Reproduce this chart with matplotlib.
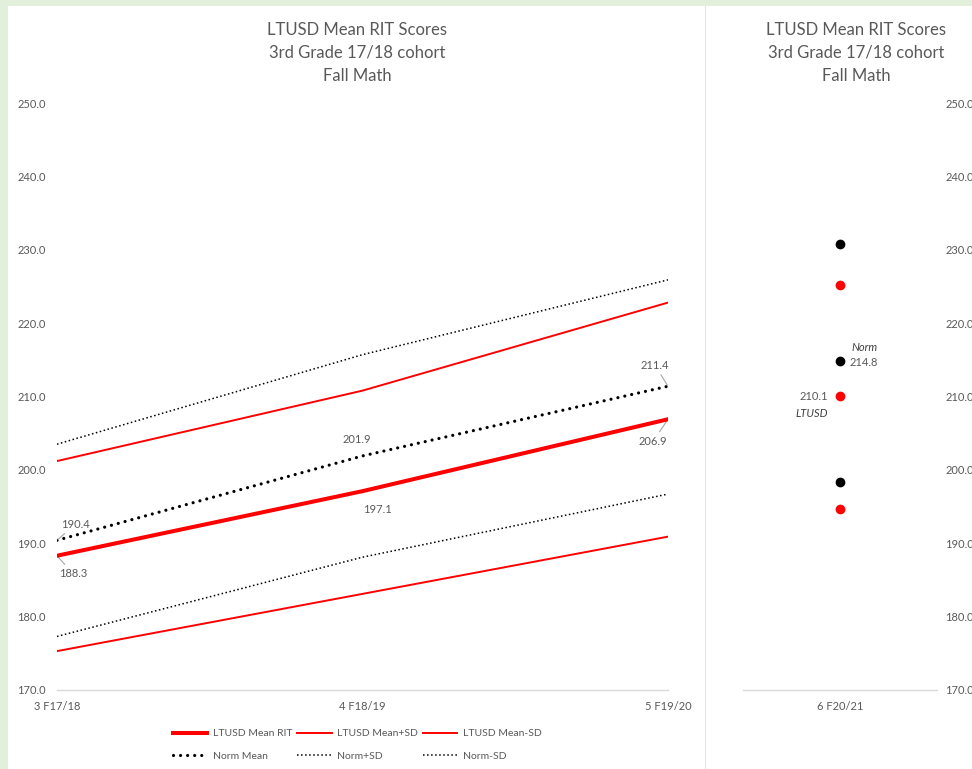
import matplotlib
matplotlib.use('Agg')
import matplotlib.pyplot as plt
from matplotlib.patches import Rectangle
from matplotlib.lines import Line2D

plt.rcParams['font.family'] = ['Lato', 'DejaVu Sans']

# data
grades = ['3 F17/18', '4 F18/19', '5 F19/20']
ltusd_mean = [188.3, 197.1, 206.9]
ltusd_plus = [201.2, 210.8, 222.8]
ltusd_minus = [175.3, 183.1, 190.9]
norm_mean = [190.4, 201.9, 211.4]
norm_plus = [203.5, 215.7, 225.9]
norm_minus = [177.3, 188.1, 196.7]

grade6 = ['6 F20/21']
g6_ltusd = [210.1, 225.2, 194.7]   # mean, +SD, -SD
g6_norm = [214.8, 230.8, 198.4]

title = 'LTUSD Mean RIT Scores\n3rd Grade 17/18 cohort\nFall Math'
grey = '#595959'
W, H = 972, 769

fig = plt.figure(figsize=(9.72, 7.69), dpi=100)
fig.patch.set_facecolor('#E2EFDA')
fig.patches.append(Rectangle((8 / W, 0), 1 - 8 / W, 1 - 6 / H, transform=fig.transFigure,
                             facecolor='white', edgecolor='none', zorder=-10))
fig.lines.append(Line2D([705 / W, 705 / W], [0, 1 - 6 / H], transform=fig.transFigure,
                        color='#E4E4E4', lw=0.8, zorder=-5))

ax = fig.add_axes([57 / W, 1 - 690 / H, 611 / W, 587 / H])
ax2 = fig.add_axes([743 / W, 1 - 690 / H, 194 / W, 587 / H])

x = list(range(len(grades)))
l1, = ax.plot(x, ltusd_mean, color='red', lw=2.9, label='LTUSD Mean RIT', zorder=4)
l2, = ax.plot(x, ltusd_plus, color='red', lw=1.4, label='LTUSD Mean+SD')
l3, = ax.plot(x, ltusd_minus, color='red', lw=1.4, label='LTUSD Mean-SD')
n1, = ax.plot(x, norm_mean, color='black', lw=2.3, dashes=(0.01, 2.2), dash_capstyle='round',
              label='Norm Mean', zorder=3)
n2, = ax.plot(x, norm_plus, color='black', lw=1.1, ls=':', label='Norm+SD')
n3, = ax.plot(x, norm_minus, color='black', lw=1.1, ls=':', label='Norm-SD')

for a in (ax, ax2):
    a.set_ylim(170, 250)
    a.set_yticks(range(170, 251, 10))
    a.set_yticklabels([f'{v:.1f}' for v in range(170, 251, 10)])
    for s in ('top', 'left', 'right'):
        a.spines[s].set_visible(False)
    a.spines['bottom'].set_color('#D9D9D9')
    a.spines['bottom'].set_linewidth(1)
    a.tick_params(length=0, labelsize=8, labelcolor=grey)
    a.tick_params(axis='x', pad=8)
    a.set_facecolor('none')

ax.set_xlim(0, len(grades) - 1)
ax.set_xticks(x)
ax.set_xticklabels(grades)
ax.tick_params(axis='y', pad=8)

ax2.set_xlim(-0.5, 0.5)
ax2.set_xticks([0])
ax2.set_xticklabels(grade6)
ax2.yaxis.tick_right()
ax2.tick_params(axis='y', pad=6)

ax2.plot([0] * 3, g6_norm, 'o', color='black', ms=6, zorder=3)
ax2.plot([0] * 3, g6_ltusd, 'o', color='red', ms=6, zorder=3)

# data labels
lead = dict(arrowstyle='-', color='#A6A6A6', lw=0.8, shrinkA=1, shrinkB=1)
lab = dict(textcoords='offset pixels', fontsize=8, color=grey, ha='center', va='center')
ax.annotate(f'{norm_mean[0]:.1f}', (0, norm_mean[0]), xytext=(18, 16), arrowprops=lead, **lab)
ax.annotate(f'{ltusd_mean[0]:.1f}', (0, ltusd_mean[0]), xytext=(16, -18), arrowprops=lead, **lab)
ax.annotate(f'{norm_mean[1]:.1f}', (1, norm_mean[1]), xytext=(-6, 16), **lab)
ax.annotate(f'{ltusd_mean[1]:.1f}', (1, ltusd_mean[1]), xytext=(15, -18), **lab)
ax.annotate(f'{norm_mean[2]:.1f}', (2, norm_mean[2]), xytext=(-13, 21), arrowprops=lead, **lab)
ax.annotate(f'{ltusd_mean[2]:.1f}', (2, ltusd_mean[2]), xytext=(-15, -22), arrowprops=lead, **lab)

ax2.annotate(f'{g6_norm[0]:.1f}', (0, g6_norm[0]), xytext=(10, -1), textcoords='offset pixels',
             fontsize=8, color=grey, ha='left', va='center')
ax2.annotate('Norm', (0, g6_norm[0]), xytext=(11, 14), textcoords='offset pixels',
             fontsize=8, color='#404040', style='italic', ha='left', va='center')
ax2.annotate(f'{g6_ltusd[0]:.1f}', (0, g6_ltusd[0]), xytext=(-12, -1), textcoords='offset pixels',
             fontsize=8, color=grey, ha='right', va='center')
ax2.annotate('LTUSD', (0, g6_ltusd[0]), xytext=(-12, -18), textcoords='offset pixels',
             fontsize=8, color='#404040', style='italic', ha='right', va='center')

# titles
fig.text(357 / W, 1 - 53 / H, title, ha='center', va='center', fontsize=12, color=grey,
         linespacing=1.55)
fig.text(856 / W, 1 - 53 / H, title, ha='center', va='center', fontsize=12, color=grey,
         linespacing=1.55)

fig.legend([l1, n1, l2, n2, l3, n3],
           ['LTUSD Mean RIT', 'Norm Mean', 'LTUSD Mean+SD', 'Norm+SD', 'LTUSD Mean-SD', 'Norm-SD'],
           ncol=3, loc='upper left', bbox_to_anchor=(173 / W, 1 - 729 / H),
           bbox_transform=fig.transFigure, frameon=False, fontsize=7.5, labelcolor=grey,
           handlelength=3.3, handletextpad=0.5, columnspacing=0.5, labelspacing=1.3,
           borderpad=0, borderaxespad=0)

fig.savefig('out.png', dpi=100, facecolor=fig.get_facecolor())
